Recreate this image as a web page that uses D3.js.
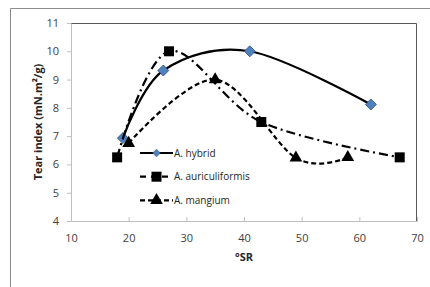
<!DOCTYPE html>
<html>
<head>
<meta charset="utf-8">
<script src="https://cdn.jsdelivr.net/npm/d3@7"></script>
<style>
  body { margin: 0; background: #fff; }
  text { font-family: "Open Sans", "Liberation Sans", sans-serif; }
</style>
</head>
<body>
<div id="chart"></div>
<script>
const svgWidth = 430;
const svgHeight = 287;

const margin = { top: 23, right: 13, bottom: 66, left: 71 };
const width = svgWidth - margin.left - margin.right;
const height = svgHeight - margin.top - margin.bottom;

// data
const seriesNames = ["A. hybrid", "A. auriculiformis", "A. mangium"];
const hybridSR = [19, 26, 41, 62];
const hybridTear = [6.93, 9.32, 10.0, 8.12];
const auriSR = [18, 27, 43, 67];
const auriTear = [6.25, 10.0, 7.5, 6.25];
const mangiumSR = [20, 35, 49, 58];
const mangiumTear = [6.75, 9.0, 6.23, 6.25];
const xTicks = [10, 20, 30, 40, 50, 60, 70];
const yTicks = [4, 5, 6, 7, 8, 9, 10, 11];

const svg = d3.select("#chart")
  .append("svg")
  .attr("width", svgWidth)
  .attr("height", svgHeight);

// outer chart frame (only top and left edges show)
svg.append("path")
  .attr("d", "M10.5,287 V8.5 H430")
  .attr("fill", "none")
  .attr("stroke", "#8c8c8c")
  .attr("stroke-width", 1);

const chartGroup = svg.append("g")
  .attr("transform", `translate(${margin.left}, ${margin.top})`);

const x = d3.scaleLinear().domain([10, 70]).range([0, width]);
const y = d3.scaleLinear().domain([4, 11]).range([height, 0]);

// plot area border: top and right dark
chartGroup.append("path")
  .attr("d", `M0,0.5 H${width - 0.5} V${height}`)
  .attr("fill", "none")
  .attr("stroke", "#595959")
  .attr("stroke-width", 1);

// axes
const bottomAxis = d3.axisBottom(x).tickValues(xTicks).tickFormat(d3.format("d"))
  .tickSizeInner(-4).tickSizeOuter(0).tickPadding(13);
const leftAxis = d3.axisLeft(y).tickValues(yTicks).tickFormat(d3.format("d"))
  .tickSizeInner(4).tickSizeOuter(0).tickPadding(8);

const xAxis = chartGroup.append("g")
  .attr("transform", `translate(0, ${height})`)
  .call(bottomAxis);
const yAxis = chartGroup.append("g").call(leftAxis);

[xAxis, yAxis].forEach(function(ax) {
  ax.select(".domain").attr("stroke", "#bfbfbf");
  ax.selectAll(".tick line").attr("stroke", "#bfbfbf");
  ax.selectAll(".tick text")
    .attr("font-size", "11px")
    .attr("fill", "#404040")
    .style("font-family", "'Open Sans', 'Liberation Sans', sans-serif");
});
xAxis.selectAll(".tick").filter(d => d === 10).select("line").remove();

// axis titles
chartGroup.append("text")
  .attr("transform", "rotate(-90)")
  .attr("x", -height / 2)
  .attr("y", -29)
  .attr("text-anchor", "middle")
  .attr("font-size", "11px")
  .attr("font-weight", "bold")
  .attr("fill", "#262626")
  .text("Tear index (mN.m²/g)");

chartGroup.append("text")
  .attr("x", width / 2)
  .attr("y", height + 40)
  .attr("text-anchor", "middle")
  .attr("font-size", "11px")
  .attr("font-weight", "bold")
  .attr("fill", "#262626")
  .text("°SR");

const series = [
  { name: seriesNames[0], xs: hybridSR, ys: hybridTear, dash: null, marker: "diamond" },
  { name: seriesNames[1], xs: auriSR, ys: auriTear, dash: "9,4,2,4", marker: "square" },
  { name: seriesNames[2], xs: mangiumSR, ys: mangiumTear, dash: "5,3", marker: "triangle" }
];

const line = d3.line()
  .x(d => x(d[0]))
  .y(d => y(d[1]))
  .curve(d3.curveCardinal.tension(0));

function drawMarker(g, type, cx, cy) {
  if (type === "diamond") {
    g.append("path")
      .attr("d", "M0,-5.5 L5.5,0 L0,5.5 L-5.5,0 Z")
      .attr("transform", `translate(${cx},${cy})`)
      .attr("fill", "#4f81bd")
      .attr("stroke", "#2c4d75")
      .attr("stroke-width", 0.8);
  } else if (type === "square") {
    g.append("rect")
      .attr("x", cx - 5).attr("y", cy - 5)
      .attr("width", 10).attr("height", 10)
      .attr("fill", "#000");
  } else {
    g.append("path")
      .attr("d", d3.symbol().type(d3.symbolTriangle).size(70)())
      .attr("transform", `translate(${cx},${cy})`)
      .attr("fill", "#000");
  }
}

series.forEach(function(s) {
  const pts = s.xs.map((v, i) => [v, s.ys[i]]);
  chartGroup.append("path")
    .datum(pts)
    .attr("d", line)
    .attr("fill", "none")
    .attr("stroke", "#000")
    .attr("stroke-width", 2.2)
    .attr("stroke-dasharray", s.dash);
  const mg = chartGroup.append("g");
  pts.forEach(p => drawMarker(mg, s.marker, x(p[0]), y(p[1])));
});

// legend
const legend = chartGroup.append("g")
  .attr("transform", "translate(69, 130)");

series.forEach(function(s, i) {
  const row = legend.append("g").attr("transform", `translate(0, ${i * 23.7})`);
  row.append("line")
    .attr("x1", 0).attr("x2", 33)
    .attr("stroke", "#000")
    .attr("stroke-width", 2.2)
    .attr("stroke-dasharray", s.marker === "square" ? "6,5" : s.dash);
  const mk = row.append("g");
  if (s.marker === "diamond") mk.attr("transform", "translate(16.5,0) scale(0.7) translate(-16.5,0)");
  drawMarker(mk, s.marker, 16.5, 0);
  row.append("text")
    .attr("x", 34)
    .attr("dy", "0.35em")
    .attr("font-size", "10px")
    .attr("fill", "#262626")
    .text(s.name);
});
</script>
</body>
</html>
